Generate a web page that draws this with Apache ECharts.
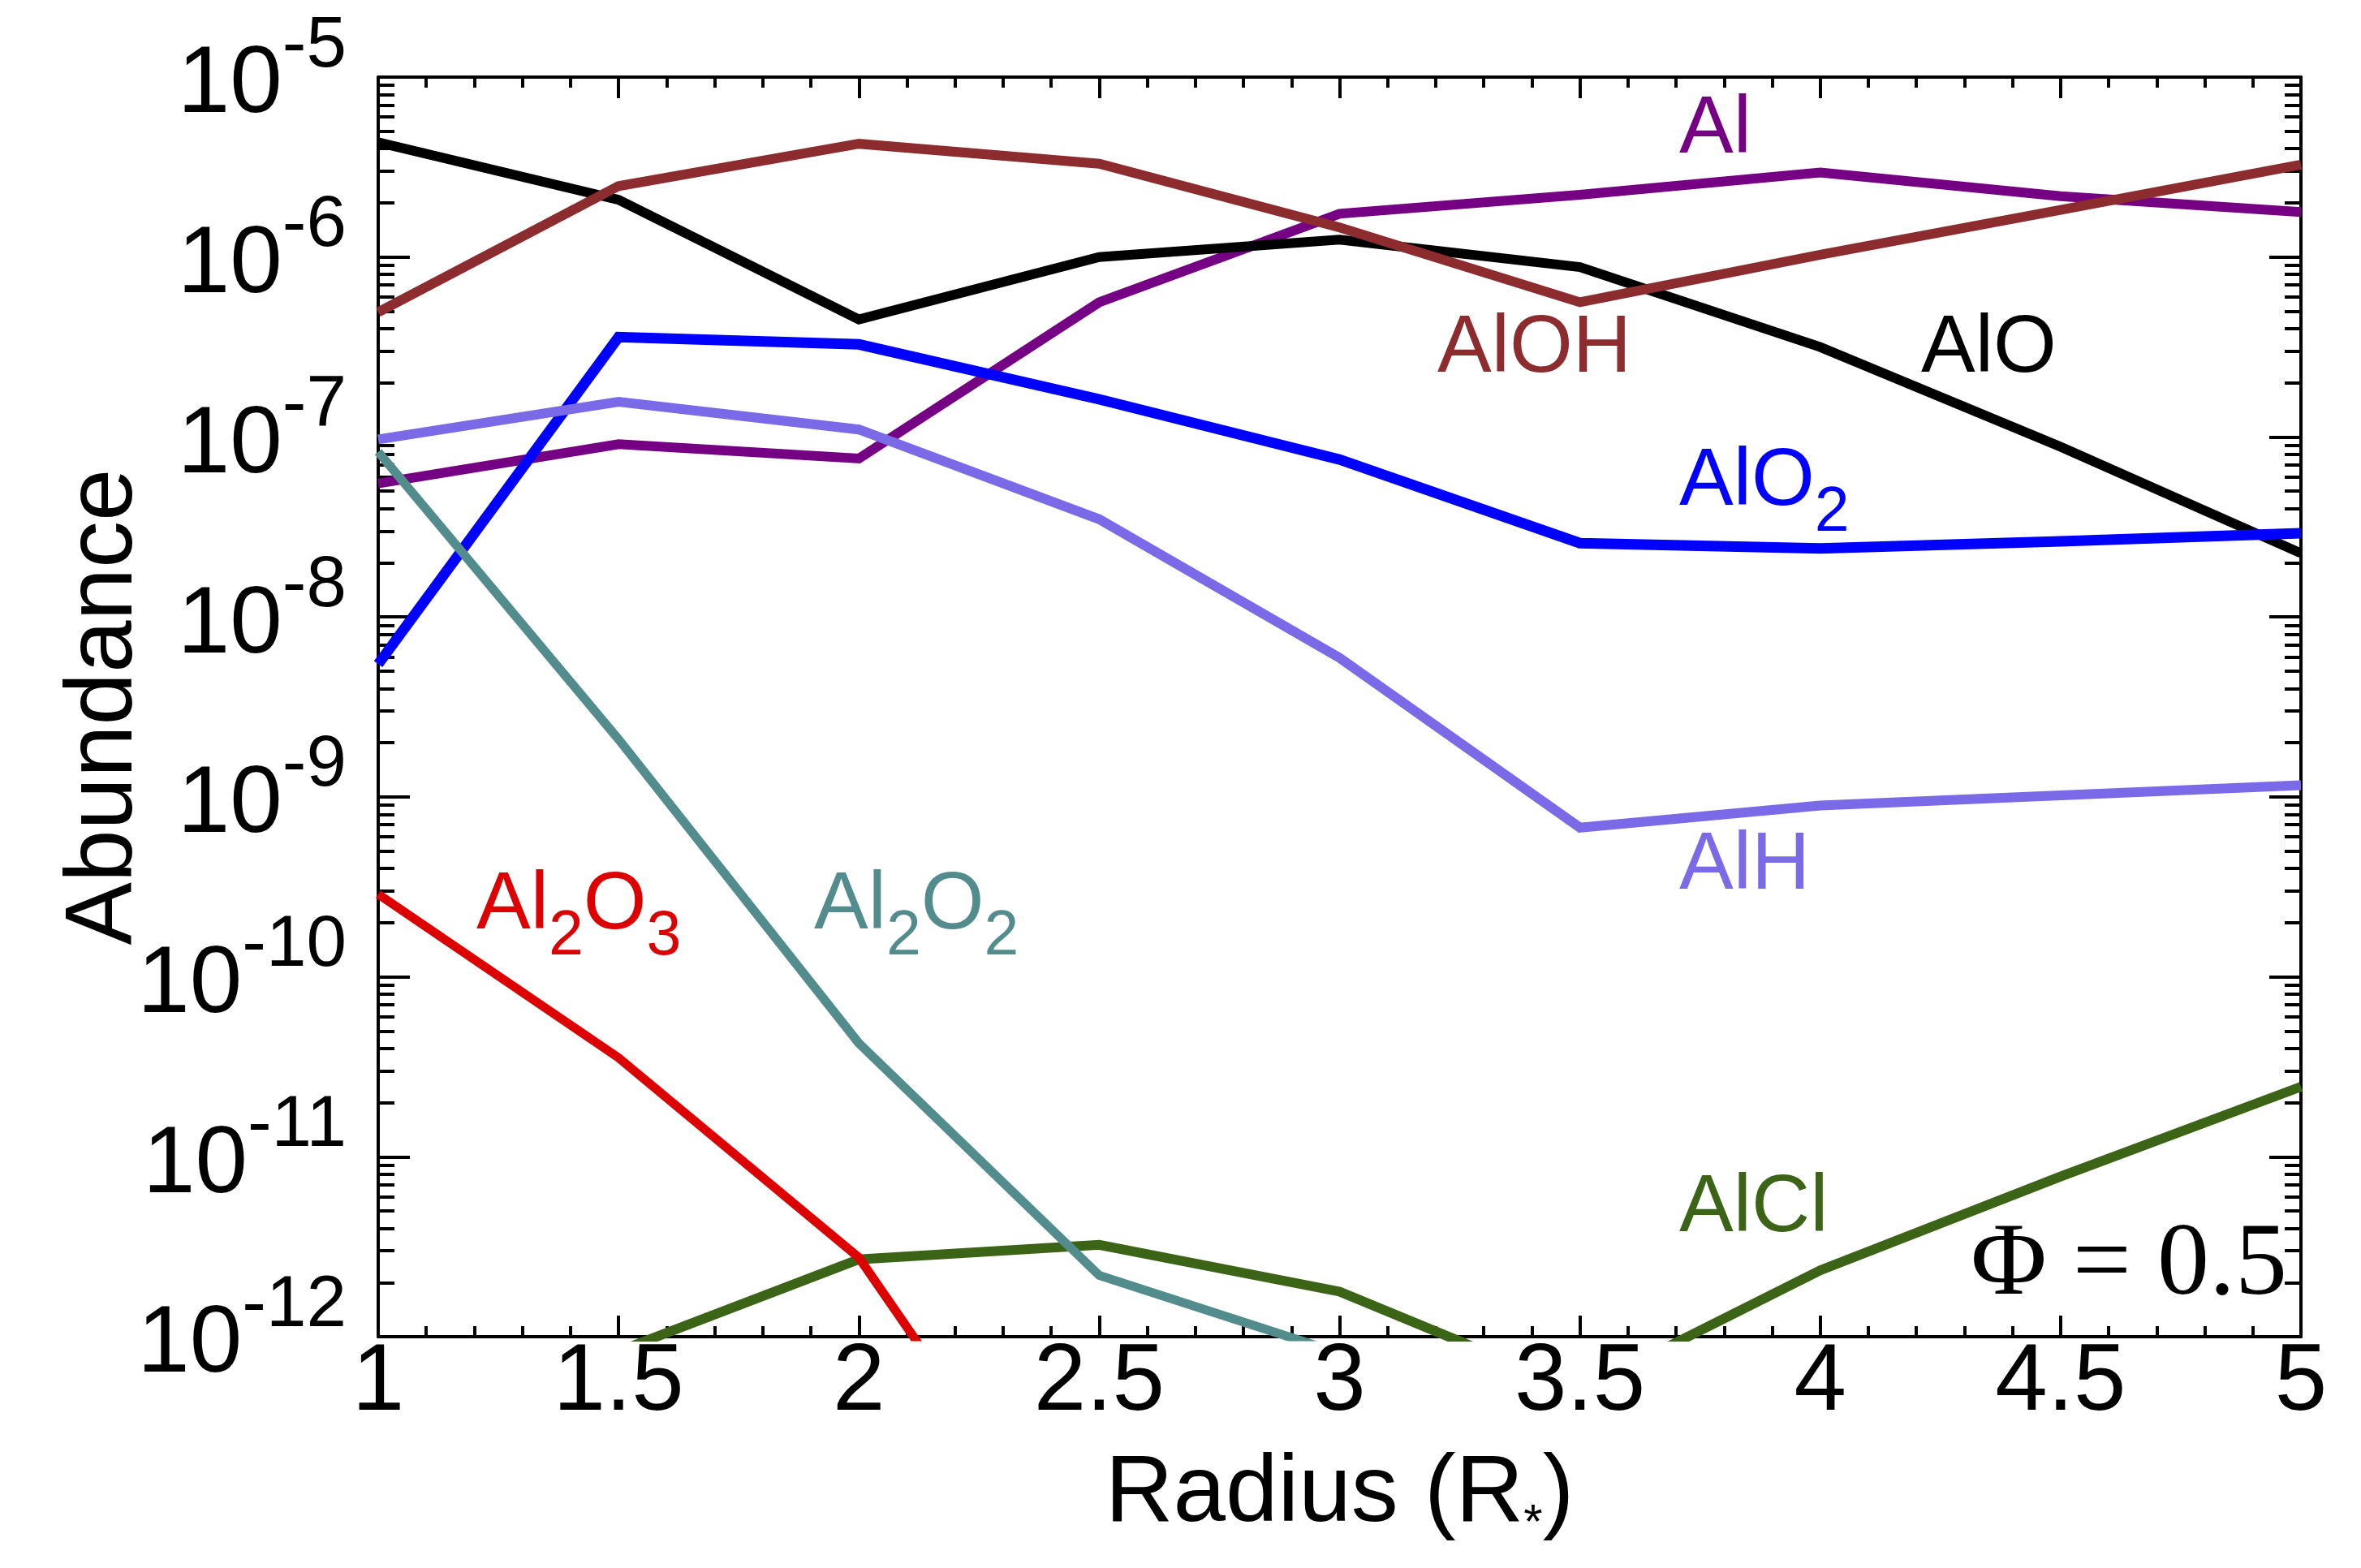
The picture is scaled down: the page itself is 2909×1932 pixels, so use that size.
<!DOCTYPE html>
<html>
<head>
<meta charset="utf-8">
<script src="https://cdn.jsdelivr.net/npm/echarts@6/dist/echarts.min.js"></script>
<style>
html, body { margin: 0; padding: 0; background: #fff; }
#chart { width: 2909px; height: 1932px; }
</style>
</head>
<body>
<div id="chart"></div>
<script>
// radius in stellar radii
var radius = [1, 1.5, 2, 2.5, 3, 3.5, 4, 4.5, 5];

// abundances (null = off the bottom of the plot)
var alData    = [5.52e-8, 9.12e-8, 7.59e-8, 5.61e-7, 1.74e-6, 2.22e-6, 2.95e-6, 2.18e-6, 1.78e-6];
var alOData   = [4.34e-6, 2.08e-6, 4.50e-7, 1.00e-6, 1.25e-6, 8.80e-7, 3.16e-7, 8.83e-8, 2.26e-8];
var alOHData  = [4.94e-7, 2.48e-6, 4.26e-6, 3.30e-6, 1.46e-6, 5.61e-7, 1.03e-6, 1.83e-6, 3.26e-6];
var alO2Data  = [5.47e-9, 3.59e-7, 3.27e-7, 1.62e-7, 7.50e-8, 2.57e-8, 2.40e-8, 2.63e-8, 2.92e-8];
var alHData   = [9.70e-8, 1.57e-7, 1.10e-7, 3.49e-8, 5.92e-9, 6.75e-10, 8.95e-10, 1.02e-9, 1.16e-9];
var alClData  = [null, 8.3e-13, 2.69e-12, 3.24e-12, 1.78e-12, 5.0e-13, 2.34e-12, 7.76e-12, 2.45e-11];
var al2O2Data = [8.26e-8, 2.09e-9, 4.27e-11, 2.19e-12, 8.1e-13, null, null, null, null];
var al2O3Data = [2.88e-10, 3.55e-11, 2.75e-12, 3.2e-14, null, null, null, null, null];

// y minor ticks 2..9 x 10^n
var yMinorTicks = [];
for (var e = -12; e < -5; e++) {
	for (var m = 2; m <= 9; m++) yMinorTicks.push(m * Math.pow(10, e));
}

var FONT = 'Liberation Sans';
var chart = echarts.init(document.getElementById('chart'));

function line(name, values, color, width) {
	return {
		name: name,
		type: 'line',
		xAxisIndex: 0,
		yAxisIndex: 0,
		symbol: 'none',
		data: radius.map(function (r, i) { return [r, values[i]]; }),
		lineStyle: { color: color, width: width, join: 'miter' },
		silent: true
	};
}

var axisLine = { show: true, lineStyle: { color: '#000', width: 4 } };
var tickStyle = { color: '#000', width: 4 };

function xAxis(pos) {
	return {
		type: 'value', position: pos, min: 1, max: 5, interval: 0.5,
		axisLine: axisLine,
		axisTick: { show: true, inside: true, length: 26, lineStyle: tickStyle },
		minorTick: { show: true, splitNumber: 5, length: 13, lineStyle: tickStyle },
		splitLine: { show: false },
		axisLabel: {
			show: pos === 'bottom', margin: 0, fontSize: 116, fontFamily: FONT, color: '#000',
			formatter: function (v) { return String(v); }
		}
	};
}

function yAxis(pos) {
	return {
		type: 'log', position: pos, min: 1e-12, max: 1e-5, splitNumber: 7,
		axisLine: axisLine,
		axisTick: { show: true, inside: true, length: 39, lineStyle: tickStyle },
		splitLine: { show: false },
		axisLabel: {
			show: pos === 'left', margin: 39, color: '#000', fontFamily: FONT,
			padding: [0, 0, 13, 0],
			formatter: function (v) {
				return '{b|10}{s|' + Math.round(Math.log10(v)) + '}';
			},
			rich: {
				b: { fontSize: 116, lineHeight: 152, fontFamily: FONT, color: '#000', verticalAlign: 'bottom' },
				s: { fontSize: 89, lineHeight: 89, fontFamily: FONT, color: '#000', verticalAlign: 'top' }
			}
		}
	};
}

function yMinor(pos) {
	return {
		type: 'log', position: pos, min: 1e-12, max: 1e-5,
		axisLine: { show: false },
		axisTick: { show: true, inside: true, length: 20, lineStyle: tickStyle, customValues: yMinorTicks },
		axisLabel: { show: false },
		splitLine: { show: false }
	};
}

var xBottom = xAxis('bottom');
xBottom.name = '{n|Radius (R}{a|*}{n|)}';
xBottom.nameLocation = 'middle';
xBottom.nameGap = 137;
xBottom.nameMoveOverlap = false;
xBottom.nameTextStyle = {
	rich: {
		n: { fontSize: 116, lineHeight: 116, fontFamily: FONT, color: '#000', verticalAlign: 'top' },
		a: { fontSize: 60, lineHeight: 124, fontFamily: FONT, color: '#000', verticalAlign: 'bottom' }
	}
};

var yLeft = yAxis('left');
yLeft.name = 'Abundance';
yLeft.nameLocation = 'middle';
yLeft.nameGap = 278;
yLeft.nameRotate = 90;
yLeft.nameMoveOverlap = false;
yLeft.nameTextStyle = { fontSize: 116, lineHeight: 116, fontFamily: FONT, color: '#000' };

function label(x, y, text, color) {
	return {
		type: 'text', x: x, y: y, silent: true,
		style: {
			text: text, fill: color, fontSize: 100, fontFamily: FONT,
			align: 'left', verticalAlign: 'top', lineHeight: 100,
			rich: {
				m: { fontSize: 100, lineHeight: 100, fontFamily: FONT, fill: color, verticalAlign: 'top' },
				s: { fontSize: 77, lineHeight: 127, fontFamily: FONT, fill: color, verticalAlign: 'bottom' }
			}
		}
	};
}

var option = {
	animation: false,
	backgroundColor: '#fff',
	grid: { left: 466, top: 95, right: 74, bottom: 285, containLabel: false, outerBoundsMode: 'none' },
	xAxis: [xBottom, xAxis('top')],
	yAxis: [yLeft, yAxis('right'), yMinor('left'), yMinor('right')],
	series: [
		line('Al', alData, '#760083', 12),
		line('AlO', alOData, '#000000', 12),
		line('AlOH', alOHData, '#8c2c2e', 12),
		line('AlO2', alO2Data, '#0000ff', 13),
		line('AlH', alHData, '#7a6ae8', 12),
		line('AlCl', alClData, '#3c6416', 12),
		line('Al2O2', al2O2Data, '#528c8c', 11),
		line('Al2O3', al2O3Data, '#dc0000', 11)
	],
	graphic: [
		label(2069, 110, '{m|Al}', '#760083'),
		label(1771, 380, '{m|AlOH}', '#8c2c2e'),
		label(2367, 380, '{m|AlO}', '#000000'),
		label(2069, 544, '{m|AlO}{s|2}', '#0000ff'),
		label(2069, 1017, '{m|AlH}', '#7a6ae8'),
		label(2069, 1439, '{m|AlCl}', '#3c6416'),
		label(587, 1066, '{m|Al}{s|2}{m|O}{s|3}', '#dc0000'),
		label(1003, 1066, '{m|Al}{s|2}{m|O}{s|2}', '#528c8c'),
		{
			type: 'text', x: 2818, y: 1560, silent: true,
			style: {
				text: '\u03a6 = 0.5', fill: '#000', fontSize: 128, fontFamily: 'Liberation Serif',
				align: 'right', verticalAlign: 'middle'
			}
		}
	]
};

chart.setOption(option);
</script>
</body>
</html>
